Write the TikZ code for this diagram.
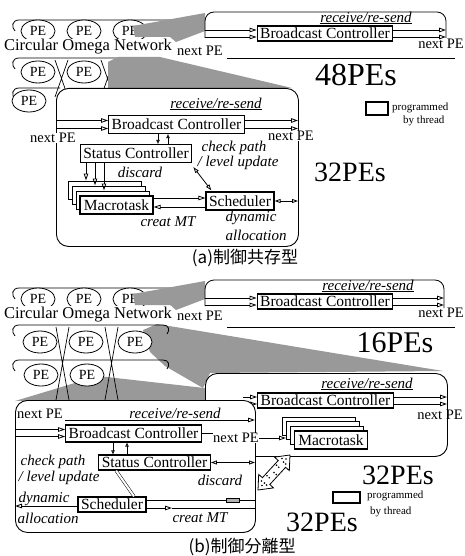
\documentclass[tikz,border=0pt]{standalone}
\usepackage{fontspec}
\setmainfont{Liberation Serif}
\newfontfamily\cjkfont{Noto Sans CJK JP}
\usetikzlibrary{arrows.meta,shapes.geometric,calc}
\newcommand\fsz[1]{\fontsize{#1}{#1}\selectfont}
\begin{document}
\begin{tikzpicture}[x=1pt,y=-1pt,
  ring/.style={line width=0.8pt},
  pe/.style={draw,ellipse,line width=0.8pt,fill=white,minimum width=34pt,minimum height=22pt,inner sep=0pt,font=\fsz{14}},
  xl/.style={line width=0.7pt},
  shade/.style={fill=black!40},
  ln/.style={line width=0.8pt},
  cont/.style={draw,line width=0.9pt,rounded corners=12pt,fill=white,inner sep=0pt},
  prog/.style={draw,line width=1.3pt,fill=white,inner xsep=3pt,inner ysep=0pt,minimum height=18pt,font=\fsz{15.5}},
  layer/.style={draw,line width=1pt,fill=white,minimum width=73pt,minimum height=18pt,inner sep=0pt},
  lbl/.style={inner sep=0.5pt,font=\fsz{15}\itshape},
  npe/.style={inner sep=0.5pt,font=\fsz{14.5}},
  big/.style={inner sep=0pt,font=\fsz{#1}},
  leg/.style={inner sep=0pt,font=\fsz{11}},
  legbox/.style={draw,line width=1.1pt,inner sep=0pt},
  captxt/.style={inner sep=0pt,font=\cjkfont\fsz{17}},
  harr/.style={-{Triangle[open,length=7pt,width=4.5pt]},line width=0.8pt},
  sarr/.style={-{Triangle[open,length=4pt,width=3.5pt]},line width=0.8pt},
  dharr/.style={{Triangle[open,length=6pt,width=4pt]}-{Triangle[open,length=6pt,width=4pt]},line width=0.8pt},
]
\useasboundingbox (0,0) rectangle (464,556);

% ================= (a) network =================
\draw[ring] (205,20) -- (19,20) .. controls (12,20) and (11,27) .. (15,31);
\node[pe] (na11) at (38,31) {PE};
\node[pe] (na12) at (84,31) {PE};
\node[pe] (na13) at (130,31) {PE};
\draw[ring] (160,58) -- (19,58) .. controls (12,58) and (11,65) .. (15,69);
\draw[ring] (160,58) .. controls (166,58) and (167,63) .. (164,67);
\node[pe] (na21) at (38,72) {PE};
\node[pe] (na22) at (84,72) {PE};
\node[pe] (na23) at (130,72) {PE};
\draw[ring] (60,88) -- (19,88) .. controls (12,88) and (11,95) .. (15,99);
\node[pe] (na31) at (29,101) {PE};
\draw[xl] (55,60) -- (68,97) (68,60) -- (55,97) (101,60) -- (114,97) (114,60) -- (101,97);
\fill[shade] (133,26) -- (205,13) -- (205,31) -- (176,42) -- (170,37) -- (135,37) -- cycle;
\node[fill=white,inner sep=0.5pt,font=\fsz{16.5}] (coA) at (88,47) {Circular Omega Network};
\fill[shade] (108,62) -- (118,57) -- (160,57) -- (292,88) -- (108,92) -- cycle;

% ================= (a) 48PE box =================
\draw[ln,rounded corners=9pt] (205,38) -- (205,12) -- (446,12) -- (446,38);
\node[lbl] (rsT) at (366,17) {receive/re-send};
\draw[ln] (rsT.south west) -- (rsT.south east);
\node[prog,minimum height=15pt] (bcT) at (325,33.5) {Broadcast Controller};
\coordinate (tL1) at (205,30); \coordinate (tL2) at (205,37);
\coordinate (tR1) at (446,30); \coordinate (tR2) at (446,37);
\draw[harr] (tL1) -- (tL1 -| bcT.west);
\draw[harr] (tL2) -- (tL2 -| bcT.west);
\draw[harr] (tR1 -| bcT.east) -- (tR1);
\draw[harr] (tR2 -| bcT.east) -- (tR2);
\node[npe] (npT1) at (200,51) {next PE};
\node[npe] (npT2) at (441,44) {next PE};
\coordinate (tB1) at (227,58); \coordinate (tB2) at (455,58);
\draw[ln] (tB1) -- (tB2);
\node[big=32] (p48) at (356,75) {48PEs};

% ================= (a) 32PE box =================
\node[cont,anchor=north west,minimum width=242pt,minimum height=158pt] (contA) at (56,88) {};
\node[lbl] (rsA) at (216,103) {receive/re-send};
\draw[ln] (rsA.south west) -- (rsA.south east);
\node[prog] (bcA) at (176.5,124.5) {Broadcast Controller};
\coordinate (aL1) at (56,120.5); \coordinate (aL2) at (56,128.5);
\coordinate (aR1) at (298,120.5); \coordinate (aR2) at (298,128.5);
\draw[harr] (aL1) -- (aL1 -| bcA.west);
\draw[harr] (aL2) -- (aL2 -| bcA.west);
\draw[harr] (aR1 -| bcA.east) -- (aR1);
\draw[harr] (aR2 -| bcA.east) -- (aR2);
\node[npe,fill=white] (npA1) at (53,138) {next PE};
\node[npe,fill=white] (npA2) at (291,136) {next PE};
\node[prog] (scA) at (136,153.5) {Status Controller};
\coordinate (aBS1) at (158,0); \coordinate (aBS2) at (168,0);
\draw[sarr] (aBS1 |- bcA.south) -- (aBS1 |- scA.north);
\draw[sarr] (aBS2 |- scA.north) -- (aBS2 |- bcA.south);
\node[lbl] (cpA) at (234,148) {check path};
\node[lbl] (luA) at (238,163) {/ level update};
\node[lbl] (dcA) at (140,172) {discard};
\node[layer] (mtA1) at (104.5,190) {};
\node[layer] (mtA2) at (108.5,195) {};
\node[layer] (mtA3) at (112.5,200) {};
\node[prog,minimum width=73pt] (mtA) at (116.5,205) {Macrotask};
\coordinate (aSM1) at (86,0); \coordinate (aSM2) at (95,0); \coordinate (aSM3) at (104,0);
\draw[harr] (aSM1 |- scA.south) -- (aSM1 |- mtA1.north);
\draw[harr] (aSM2 |- scA.south) -- (aSM2 |- mtA2.north);
\draw[harr] (aSM3 |- scA.south) -- (aSM3 |- mtA3.north);
\node[prog] (schA) at (240,201) {Scheduler};
\coordinate (aMS1) at (0,198); \coordinate (aMS2) at (0,207);
\draw[harr] (aMS1 -| mtA.east) -- (aMS1 -| schA.west);
\draw[harr] (aMS2 -| schA.west) -- (aMS2 -| mtA.east);
\draw[dharr] ($(scA.south east)+(1,4)$) -- ($(schA.north west)+(6,-1)$);
\coordinate (aSR) at (298,201);
\draw[dharr] (schA.east) -- (aSR);
\node[lbl,anchor=west] (dyA) at (225,218) {dynamic};
\node[lbl,anchor=west] (alA) at (225,235) {allocation};
\node[lbl] (cmA) at (168,222) {creat MT};
\node[big=28] (p32a) at (350,172) {32PEs};
\node[legbox,minimum width=22pt,minimum height=13pt] (lgA) at (377,108.5) {};
\node[leg,anchor=west] (lgA1) at (392,108) {programmed};
\node[leg,anchor=west] (lgA2) at (403,121) {by thread};
\node[captxt] (capA) at (245,258) {(a)制御共存型};

% ================= (b) network =================
\fill[shade] (15,401) -- (98,376) -- (240,392) -- (252,400) -- cycle;
\draw[ring] (205,288) -- (19,288) .. controls (12,288) and (11,295) .. (15,299);
\node[pe] (nb11) at (38,299) {PE};
\node[pe] (nb12) at (84,299) {PE};
\node[pe] (nb13) at (130,299) {PE};
\fill[shade] (133,294) -- (205,281) -- (205,299) -- (176,310) -- (170,305) -- (135,305) -- cycle;
\node[fill=white,inner sep=0.5pt,font=\fsz{16.5}] (coB) at (88,314.5) {Circular Omega Network};
\fill[shade] (143,330) -- (157,324) -- (443,371) -- (210,373) -- (203,388) -- (165,366) -- (150,352) -- cycle;
\draw[ring] (163,325) -- (19,325) .. controls (12,325) and (11,332) .. (15,336);
\draw[ring] (163,325) .. controls (169,325) and (170,330) .. (167,334);
\node[pe] (nb21) at (40,342) {PE};
\node[pe] (nb22) at (86,342) {PE};
\node[pe] (nb23) at (135,342) {PE};
\draw[ring] (163,360) -- (19,360) .. controls (12,360) and (11,367) .. (15,371);
\draw[ring] (163,360) .. controls (169,360) and (170,365) .. (167,369);
\node[pe] (nb31) at (41,375) {PE};
\node[pe] (nb32) at (87,375) {PE};
\draw[xl] (56,327) -- (69,400) (69,327) -- (56,400) (105,327) -- (118,400) (118,327) -- (105,400);

% ================= (b) 16PE box =================
\draw[ln,rounded corners=9pt] (205,306) -- (205,280) -- (444,280) -- (444,308);
\node[lbl] (rsU) at (368,285) {receive/re-send};
\draw[ln] (rsU.south west) -- (rsU.south east);
\node[prog,minimum height=15pt] (bcU) at (325,301.5) {Broadcast Controller};
\coordinate (uL1) at (205,298); \coordinate (uL2) at (205,305);
\coordinate (uR1) at (444,298); \coordinate (uR2) at (444,305);
\draw[harr] (uL1) -- (uL1 -| bcU.west);
\draw[harr] (uL2) -- (uL2 -| bcU.west);
\draw[harr] (uR1 -| bcU.east) -- (uR1);
\draw[harr] (uR2 -| bcU.east) -- (uR2);
\node[npe] (npU1) at (200,316) {next PE};
\node[npe] (npU2) at (441,313) {next PE};
\coordinate (uB1) at (227,327); \coordinate (uB2) at (455,327);
\draw[ln] (uB1) -- (uB2);
\node[big=30] (p16) at (395,343) {16PEs};

% ================= (b) right 32PE box =================
\node[cont,anchor=north west,minimum width=242pt,minimum height=83pt] (contB2) at (205,373) {};
\node[lbl] (rsB2) at (367,383) {receive/re-send};
\draw[ln] (rsB2.south west) -- (rsB2.south east);
\node[prog,minimum height=15pt] (bcB2) at (325.5,400.5) {Broadcast Controller};
\coordinate (bL1) at (243,397); \coordinate (bL2) at (243,404);
\coordinate (bR1) at (447,397); \coordinate (bR2) at (447,404);
\draw[harr] (bL1) -- (bL1 -| bcB2.west);
\draw[harr] (bL2) -- (bL2 -| bcB2.west);
\draw[harr] (bR1 -| bcB2.east) -- (bR1);
\draw[harr] (bR2 -| bcB2.east) -- (bR2);
\node[npe] (npB2) at (440,415) {next PE};
\node[layer] (mtB1) at (319,426) {};
\node[layer] (mtB2) at (323,430.6) {};
\node[layer] (mtB3) at (327,435.3) {};
\node[prog,minimum width=73pt] (mtB) at (331,440) {Macrotask};

% ================= (b) left 32PE box =================
\node[cont,anchor=north west,minimum width=240pt,minimum height=132pt] (contB1) at (15,400) {};
\node[npe] (npB1) at (40,414) {next PE};
\node[lbl] (rsB1) at (175,413) {receive/re-send};
\coordinate (bRS0) at (65,420); \coordinate (bRS1) at (255,420);
\draw[harr] (bRS0) -- (bRS1);
\node[prog,minimum height=17pt] (bcB1) at (133.5,433.5) {Broadcast Controller};
\coordinate (bI1) at (15,429.5); \coordinate (bI2) at (15,436.5);
\draw[harr] (bI1) -- (bI1 -| bcB1.west);
\draw[harr] (bI2) -- (bI2 -| bcB1.west);
\node[npe,fill=white] (npB3) at (236,438) {next PE};
\draw[ln] (bcB1.east) -- (bcB1.east -| npB3.west);
\draw[harr] (npB3.east) -- (npB3.east -| mtB2.west);
\node[prog,minimum height=15pt] (scB1) at (154.5,462.5) {Status Controller};
\coordinate (bBS1) at (113,0); \coordinate (bBS2) at (127,0);
\draw[sarr] (bBS1 |- bcB1.south) -- (bBS1 |- scB1.north);
\draw[sarr] (bBS2 |- scB1.north) -- (bBS2 |- bcB1.south);
\node[lbl,anchor=west] (cpB) at (20,462) {check path};
\node[lbl,anchor=west] (luB) at (18,478) {/ level update};
\coordinate (bSR) at (255,462.5);
\draw[dharr] (scB1.east) -- (bSR);
\node[lbl] (dcB) at (220,480) {discard};
\node[prog,minimum height=15pt] (schB) at (112,504.5) {Scheduler};
\draw[double,double distance=2pt,line width=0.5pt] ($(scB1.south west)+(18,0)$) -- ($(schB.north)+(22,0)$);
\node[lbl,anchor=west] (dyB) at (18,499) {dynamic};
\coordinate (bDA) at (15,506);
\draw[harr] (schB.west |- bDA) -- (bDA);
\node[lbl,anchor=west] (alB) at (17,518) {allocation};
\coordinate (bSA) at (255,500);
\draw[ln] (schB.east |- bSA) -- (bSA);
\node[draw,fill=gray!60,minimum width=13pt,minimum height=3.5pt,inner sep=0pt,line width=0.5pt] (gB) at (233,500) {};
\coordinate (bCM1) at (172,508); \coordinate (bCM2) at (255,508);
\draw[harr] (schB.east |- bCM1) -- (bCM1);
\draw[ln] (bCM1) -- (bCM2);
\node[lbl] (cmB) at (200,518) {creat MT};
% dotted double block arrow
\draw[line width=0.8pt,fill=white] (290,455) -- (289.3,470.6) -- (285.6,467.3) -- (269.8,484.5) -- (273.5,487.9) -- (258,490) -- (258.7,474.4) -- (262.4,477.7) -- (278.2,460.5) -- (274.5,457.1) -- cycle;
\foreach \p in {(264.4,483),(269.2,477.7),(274,472.5),(278.8,467.2),(283.6,462),(266.6,485),(267,475.7),(276.2,474.5),(276.6,465.2),(285.8,464),(262,485.5),(261.5,481),(286,459),(282,458.5)}
  \fill \p circle (0.9pt);
\node[big=28] (p32b1) at (398,475) {32PEs};
\node[big=28] (p32b2) at (322,522) {32PEs};
\node[legbox,minimum width=27pt,minimum height=11pt] (lgB) at (346.5,497.5) {};
\node[leg,anchor=west] (lgB1) at (367,496) {programmed};
\node[leg,anchor=west] (lgB2) at (370,512) {by thread};
\node[captxt] (capB) at (242,547) {(b)制御分離型};
\end{tikzpicture}
\end{document}
